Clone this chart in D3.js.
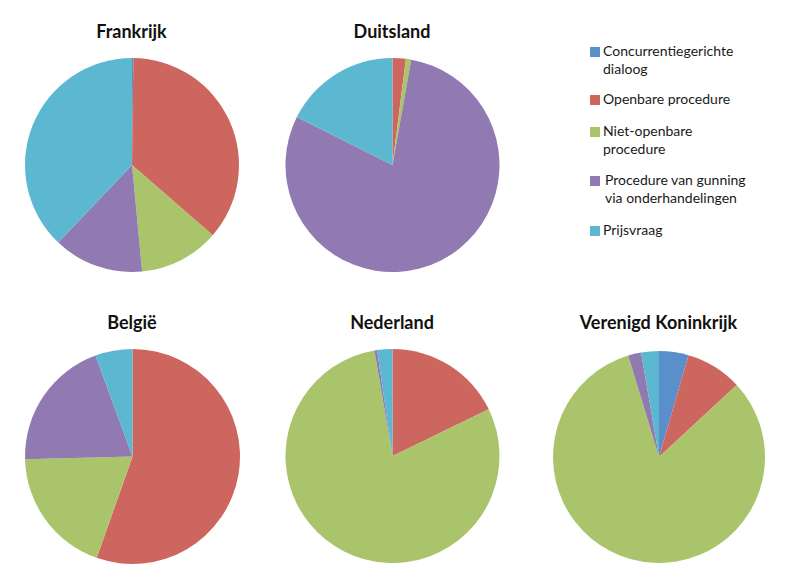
<!DOCTYPE html>
<html>
<head>
<meta charset="utf-8">
<script src="https://cdn.jsdelivr.net/npm/d3@7"></script>
<style>
  body { margin: 0; background: #fff; }
  svg { display: block; }
  .title { font-family: Lato, "Open Sans", sans-serif; font-weight: bold; font-size: 18px; fill: #111; }
  .legend text { font-family: Lato, "Open Sans", sans-serif; font-size: 14px; fill: #1a1a1a; }
</style>
</head>
<body>
<svg id="chart" width="789" height="585"></svg>
<script>
const categories = ["Concurrentiegerichte dialoog", "Openbare procedure", "Niet-openbare procedure",
  "Procedure van gunning via onderhandelingen", "Prijsvraag"];
const countries = ["Frankrijk", "Duitsland", "België", "Nederland", "Verenigd Koninkrijk"];

// share per procedure (%), in category order
const frankrijk = [0.2, 36.2, 12.1, 13.6, 37.9];
const duitsland = [0, 2.0, 0.8, 79.6, 17.6];
const belgie = [0, 55.4, 19.2, 19.8, 5.6];
const nederland = [0, 17.8, 79.5, 0.4, 2.3];
const verenigdKoninkrijk = [4.5, 8.6, 82.2, 2.0, 2.7];

const legendLines = [["Concurrentiegerichte", "dialoog"], ["Openbare procedure"], ["Niet-openbare", "procedure"],
  ["Procedure van gunning", "via onderhandelingen"], ["Prijsvraag"]];

const series = [frankrijk, duitsland, belgie, nederland, verenigdKoninkrijk];

const colors = d3.scaleOrdinal()
  .domain(categories)
  .range(["#5b8fcb", "#cd665e", "#aac46c", "#9179b1", "#5cb7d0"]);

const svg = d3.select("#chart");

// pie centres and title baselines
const layout = [
  {cx: 132, cy: 165, r: 107, ty: 38},
  {cx: 392.5, cy: 165, r: 107, ty: 38},
  {cx: 132.5, cy: 456.5, r: 107.5, ty: 329},
  {cx: 392.5, cy: 456, r: 107, ty: 329},
  {cx: 659, cy: 457, r: 106, ty: 329}
];

const pie = d3.pie().sort(null).value(d => d.value);

countries.forEach((name, i) => {
  const L = layout[i];
  const arc = d3.arc().innerRadius(0).outerRadius(L.r);
  const g = svg.append("g").attr("transform", `translate(${L.cx},${L.cy})`);

  const data = categories.map((c, j) => ({cat: c, value: series[i][j]}));

  g.selectAll("path")
    .data(pie(data).filter(d => d.data.value > 0))
    .enter()
    .append("path")
    .attr("d", arc)
    .attr("fill", d => colors(d.data.cat));

  svg.append("text")
    .attr("class", "title")
    .attr("x", L.cx - 0.5)
    .attr("y", L.ty)
    .attr("text-anchor", "middle")
    .text(name);
});

// Legend
const legendY = [47, 95, 127, 176, 226];
const legend = svg.append("g").attr("class", "legend");

categories.forEach((c, i) => {
  const item = legend.append("g").attr("transform", `translate(590,${legendY[i]})`);
  item.append("rect")
    .attr("width", 10)
    .attr("height", 10)
    .attr("fill", colors(c));
  legendLines[i].forEach((line, k) => {
    item.append("text")
      .attr("x", i === 3 ? 15 : 13)
      .attr("y", 9 + k * 18)
      .text(line);
  });
});
</script>
</body>
</html>
